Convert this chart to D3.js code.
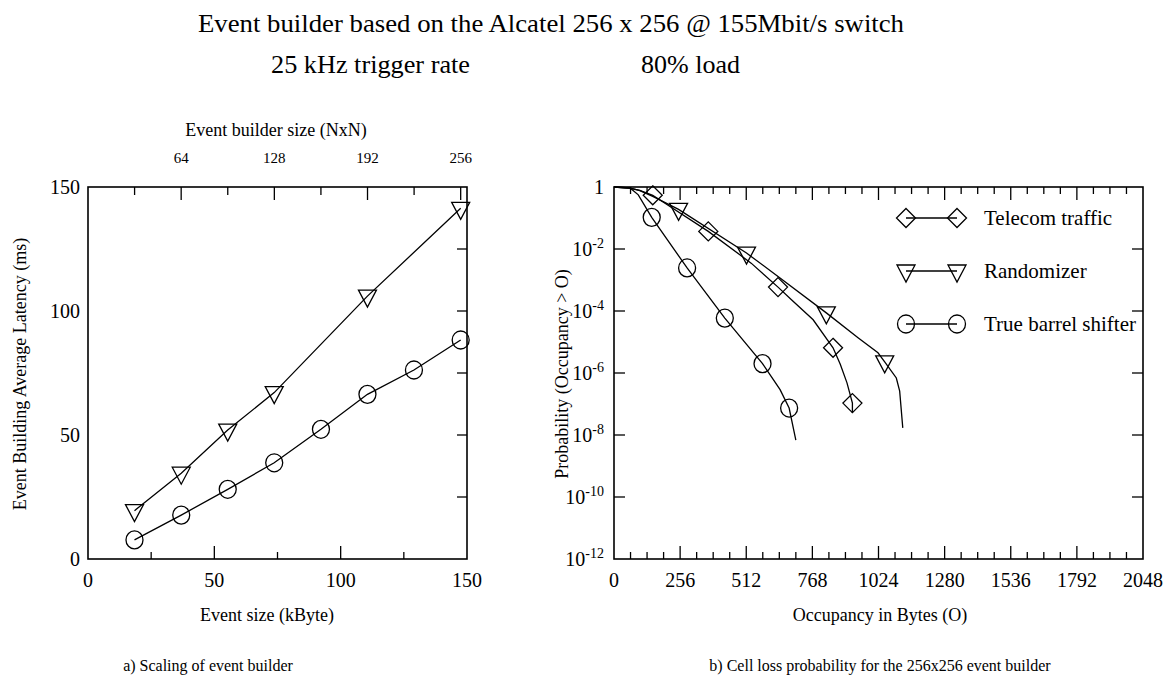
<!DOCTYPE html>
<head>
<style type="text/css">
	body { margin: 0; background: #fff; }
	text { font-family: "Liberation Serif", "DejaVu Serif", serif; fill: #000; }
	.frame { fill: none; stroke: #000; stroke-width: 1.6; }
	.tick { stroke: #000; stroke-width: 1.3; }
	.curve { fill: none; stroke: #000; stroke-width: 1.3; }
	.mark { fill: none; stroke: #000; stroke-width: 1.3; }
</style>
</head>
<script src="https://d3js.org/d3.v7.min.js"></script>
<body>
	<svg width="1166" height="686"></svg>
	<script>
	// ---- data: a) scaling of event builder
	var triSize = [18.4, 36.9, 55.3, 73.7, 110.6, 147.5];
	var triLatency = [19.5, 34.6, 52.0, 67.1, 106.0, 141.4];
	var circSize = [18.4, 36.9, 55.3, 73.7, 92.2, 110.6, 129.0, 147.5];
	var circLatency = [7.7, 17.7, 28.1, 38.8, 52.3, 66.4, 76.2, 88.3];
	var builderSizes = [64, 128, 192, 256];
	var builderMinor = [32, 96, 160, 224];
	var sizeTicks = [0, 50, 100, 150];
	var latencyTicks = [0, 50, 100, 150];

	// ---- data: b) cell loss probability (curve O, P) and marker points
	var telecomO = [0, 60, 100, 150, 365, 531, 635, 687, 771, 848, 876, 902, 923, 923];
	var telecomP = [1, 0.92, 0.78, 0.54, 0.037, 3.5e-3, 5.9e-4, 2.3e-4, 5.2e-5, 6.5e-6, 1.9e-6, 4.8e-7, 1.07e-7, 5.1e-8];
	var telecomMarkO = [150, 365, 635, 848, 923];
	var telecomMarkP = [0.54, 0.037, 5.9e-4, 6.5e-6, 1.07e-7];

	var randomO = [0, 60, 100, 150, 250, 513, 635, 822, 946, 1022, 1048, 1093, 1106, 1118];
	var randomP = [1, 0.93, 0.76, 0.5, 0.19, 7.4e-3, 1.3e-3, 8.7e-5, 1.35e-5, 4.5e-6, 2.3e-6, 6.9e-7, 2.6e-7, 1.7e-8];
	var randomMarkO = [250, 513, 822, 1048];
	var randomMarkP = [0.19, 7.4e-3, 8.7e-5, 2.3e-6];

	var barrelO = [0, 62, 94, 146, 283, 429, 575, 643, 678, 704];
	var barrelP = [1, 0.93, 0.56, 0.105, 2.45e-3, 5.9e-5, 2.0e-6, 2.9e-7, 7.4e-8, 6.8e-9];
	var barrelMarkO = [146, 283, 429, 575, 678];
	var barrelMarkP = [0.105, 2.45e-3, 5.9e-5, 2.0e-6, 7.4e-8];

	var occTicks = [0, 256, 512, 768, 1024, 1280, 1536, 1792, 2048];
	var probExps = [0, -2, -4, -6, -8, -10, -12];
	var legendNames = ["Telecom traffic", "Randomizer", "True barrel shifter"];
	var legendShapes = ["diamond", "triangle", "circle"];

	var svg = d3.select("svg");

	function zip(a, b) { return a.map(function(v, i) { return [v, b[i]]; }); }

	function marker(g, shape, x, y) {
		if (shape == "circle") {
			g.append("ellipse").attr("class", "mark").attr("cx", x).attr("cy", y).attr("rx", 8.5).attr("ry", 9);
		} else if (shape == "diamond") {
			g.append("path").attr("class", "mark")
			.attr("d", "M" + x + "," + (y - 9.5) + "L" + (x + 9.5) + "," + y + "L" + x + "," + (y + 9.5) + "L" + (x - 9.5) + "," + y + "Z");
		} else {
			g.append("path").attr("class", "mark")
			.attr("d", "M" + (x - 9) + "," + (y - 6) + "L" + (x + 9) + "," + (y - 6) + "L" + x + "," + (y + 11) + "Z");
		}
	}

	// ---- titles
	svg.append("text").attr("x", 551).attr("y", 32).attr("text-anchor", "middle")
	.attr("font-size", 25).attr("textLength", 706).attr("lengthAdjust", "spacingAndGlyphs")
	.text("Event builder based on the Alcatel 256 x 256 @ 155Mbit/s switch");
	svg.append("text").attr("x", 271).attr("y", 73).attr("font-size", 25)
	.attr("textLength", 199).attr("lengthAdjust", "spacingAndGlyphs").text("25 kHz trigger rate");
	svg.append("text").attr("x", 641).attr("y", 73).attr("font-size", 25)
	.attr("textLength", 99).attr("lengthAdjust", "spacingAndGlyphs").text("80% load");

	// ================= a) left plot
	var xL = d3.scaleLinear().domain([0, 150]).range([88, 467]);
	var yL = d3.scaleLinear().domain([0, 150]).range([559, 187]);
	var nTop = d3.scaleLinear().domain([0, 256]).range([xL(0), xL(147.5)]);

	var gl = svg.append("g");
	gl.append("rect").attr("class", "frame").attr("x", xL(0)).attr("y", yL(150))
	.attr("width", xL(150) - xL(0)).attr("height", yL(0) - yL(150));

	// bottom ticks (inward)
	[25, 50, 75, 100, 125].forEach(function(v) {
		var len = (v % 50 == 0) ? 13 : 7;
		gl.append("line").attr("class", "tick").attr("x1", xL(v)).attr("x2", xL(v))
		.attr("y1", yL(0)).attr("y2", yL(0) - len);
	});
	// right ticks
	[25, 50, 75, 100, 125].forEach(function(v) {
		gl.append("line").attr("class", "tick").attr("x1", xL(150)).attr("x2", xL(150) - 10)
		.attr("y1", yL(v)).attr("y2", yL(v));
	});
	// top ticks (builder size)
	builderSizes.concat(builderMinor).forEach(function(n) {
		var len = builderSizes.indexOf(n) >= 0 ? 13 : 8;
		gl.append("line").attr("class", "tick").attr("x1", nTop(n)).attr("x2", nTop(n))
		.attr("y1", yL(150)).attr("y2", yL(150) + len);
	});
	gl.selectAll(".ntl").data(builderSizes).enter().append("text")
	.attr("x", function(d) { return nTop(d); }).attr("y", 163)
	.attr("text-anchor", "middle").attr("font-size", 15).text(function(d) { return d; });
	gl.append("text").attr("x", 276).attr("y", 136).attr("text-anchor", "middle")
	.attr("font-size", 18).text("Event builder size (NxN)");

	gl.selectAll(".xtl").data(sizeTicks).enter().append("text")
	.attr("x", function(d) { return xL(d); }).attr("y", 587)
	.attr("text-anchor", "middle").attr("font-size", 20).text(function(d) { return d; });
	gl.selectAll(".ytl").data(latencyTicks).enter().append("text")
	.attr("x", 80).attr("y", function(d) { return yL(d) + 7; })
	.attr("text-anchor", "end").attr("font-size", 20).text(function(d) { return d; });

	gl.append("text").attr("x", 267).attr("y", 621).attr("text-anchor", "middle")
	.attr("font-size", 18).text("Event size (kByte)");
	gl.append("text").attr("transform", "translate(26,374) rotate(-90)").attr("text-anchor", "middle")
	.attr("font-size", 18).text("Event Building Average Latency (ms)");

	var lineL = d3.line().x(function(d) { return xL(d[0]); }).y(function(d) { return yL(d[1]); });
	gl.append("path").attr("class", "curve").attr("d", lineL(zip(triSize, triLatency)));
	gl.append("path").attr("class", "curve").attr("d", lineL(zip(circSize, circLatency)));
	zip(triSize, triLatency).forEach(function(d) { marker(gl, "triangle", xL(d[0]), yL(d[1])); });
	zip(circSize, circLatency).forEach(function(d) { marker(gl, "circle", xL(d[0]), yL(d[1])); });

	gl.append("text").attr("x", 208).attr("y", 671).attr("text-anchor", "middle")
	.attr("font-size", 16).text("a) Scaling of event builder");

	// ================= b) right plot
	var xR = d3.scaleLinear().domain([0, 2048]).range([614, 1143]);
	var yR = d3.scaleLog().domain([1e-12, 1]).range([559, 187]);

	var gr = svg.append("g");
	gr.append("rect").attr("class", "frame").attr("x", xR(0)).attr("y", yR(1))
	.attr("width", xR(2048) - xR(0)).attr("height", yR(1e-12) - yR(1));

	d3.range(64, 2048, 64).forEach(function(v) {
		var len = (v % 256 == 0) ? 13 : 7;
		gr.append("line").attr("class", "tick").attr("x1", xR(v)).attr("x2", xR(v))
		.attr("y1", yR(1e-12)).attr("y2", yR(1e-12) - len);
		gr.append("line").attr("class", "tick").attr("x1", xR(v)).attr("x2", xR(v))
		.attr("y1", yR(1)).attr("y2", yR(1) + len);
	});
	probExps.slice(1, -1).forEach(function(e) {
		var y = yR(Math.pow(10, e));
		gr.append("line").attr("class", "tick").attr("x1", xR(0)).attr("x2", xR(0) + 11).attr("y1", y).attr("y2", y);
		gr.append("line").attr("class", "tick").attr("x1", xR(2048)).attr("x2", xR(2048) - 11).attr("y1", y).attr("y2", y);
	});

	gr.selectAll(".xtl").data(occTicks).enter().append("text")
	.attr("x", function(d) { return xR(d); }).attr("y", 587)
	.attr("text-anchor", "middle").attr("font-size", 20).text(function(d) { return d; });

	probExps.forEach(function(e) {
		var t = gr.append("text").attr("x", 604).attr("y", yR(Math.pow(10, e)) + 7)
		.attr("text-anchor", "end").attr("font-size", 20);
		if (e == 0) { t.text("1"); return; }
		t.append("tspan").text("10");
		t.append("tspan").attr("font-size", 14).attr("dy", -8).text(e);
	});

	gr.append("text").attr("x", 880).attr("y", 621).attr("text-anchor", "middle")
	.attr("font-size", 18).text("Occupancy in Bytes (O)");
	gr.append("text").attr("transform", "translate(568,374) rotate(-90)").attr("text-anchor", "middle")
	.attr("font-size", 18).text("Probability (Occupancy > O)");

	var lineR = d3.line().x(function(d) { return xR(d[0]); }).y(function(d) { return yR(d[1]); });
	gr.append("path").attr("class", "curve").attr("d", lineR(zip(telecomO, telecomP)));
	gr.append("path").attr("class", "curve").attr("d", lineR(zip(randomO, randomP)));
	gr.append("path").attr("class", "curve").attr("d", lineR(zip(barrelO, barrelP)));
	zip(telecomMarkO, telecomMarkP).forEach(function(d) { marker(gr, "diamond", xR(d[0]), yR(d[1])); });
	zip(randomMarkO, randomMarkP).forEach(function(d) { marker(gr, "triangle", xR(d[0]), yR(d[1])); });
	zip(barrelMarkO, barrelMarkP).forEach(function(d) { marker(gr, "circle", xR(d[0]), yR(d[1])); });

	// legend
	legendNames.forEach(function(name, i) {
		var y = 218 + i * 53;
		gr.append("line").attr("class", "curve").attr("x1", 906).attr("x2", 957).attr("y1", y).attr("y2", y);
		marker(gr, legendShapes[i], 906, y);
		marker(gr, legendShapes[i], 957, y);
		gr.append("text").attr("x", 984).attr("y", y + 7).attr("font-size", 21).text(name);
	});

	gr.append("text").attr("x", 880).attr("y", 671).attr("text-anchor", "middle")
	.attr("font-size", 16).text("b) Cell loss probability for the 256x256 event builder");
	</script>
</body>
